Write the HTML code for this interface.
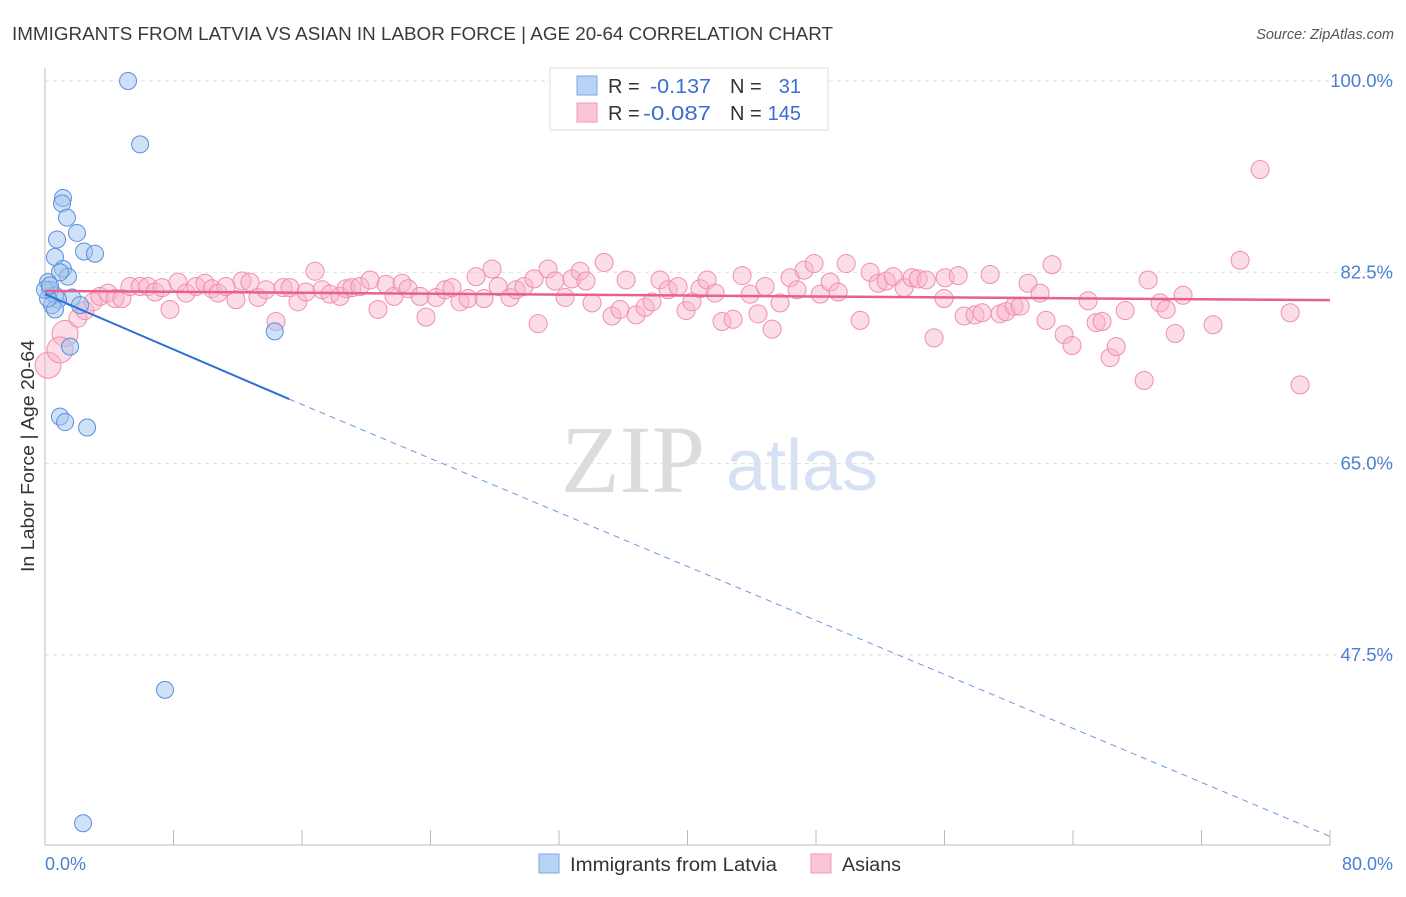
<!DOCTYPE html>
<html><head><meta charset="utf-8"><style>
body{margin:0;background:#fff;font-family:"Liberation Sans",sans-serif;}
</style></head><body>
<svg width="1406" height="892" xmlns="http://www.w3.org/2000/svg" style="font-family:'Liberation Sans',sans-serif">
<text x="12" y="40" font-size="18" fill="#3a3a3a" textLength="821" lengthAdjust="spacingAndGlyphs">IMMIGRANTS FROM LATVIA VS ASIAN IN LABOR FORCE | AGE 20-64 CORRELATION CHART</text>
<text x="1394" y="39" font-size="14.5" fill="#555" text-anchor="end" font-style="italic">Source: ZipAtlas.com</text>
<g>
<text x="633" y="492" font-size="96" fill="#dcdcdc" text-anchor="middle" font-family="Liberation Serif,serif">ZIP</text>
<text x="802" y="490" font-size="72" fill="#d6e2f3" text-anchor="middle">atlas</text>
</g>
<g id="grid"></g>
<g id="axes"></g>
<g id="marks"></g>
<g id="trends"></g>
<text x="34" y="456" font-size="18" fill="#333" text-anchor="middle" textLength="232" lengthAdjust="spacingAndGlyphs" transform="rotate(-90 34 456)">In Labor Force | Age 20-64</text>
<text x="45" y="870" font-size="18" fill="#4a7fd4">0.0%</text>
<text x="1393" y="870" font-size="18" fill="#4a7fd4" text-anchor="end">80.0%</text>
<g>
<rect x="550" y="68" width="278" height="62" fill="#fff" stroke="#ddd"/>
<rect x="577" y="76" width="20" height="19" fill="#b9d3f5" stroke="#7aa6e6"/>
<rect x="577" y="103" width="20" height="19" fill="#fac5d5" stroke="#f09ab5"/>
<text x="608" y="93" font-size="20" fill="#333">R = </text>
<text x="650" y="93" font-size="20" fill="#3a6fd0" textLength="61" lengthAdjust="spacingAndGlyphs">-0.137</text>
<text x="730" y="93" font-size="20" fill="#333">N = </text>
<text x="801" y="93" font-size="20" fill="#3a6fd0" text-anchor="end">31</text>
<text x="608" y="120" font-size="20" fill="#333">R = </text>
<text x="643" y="120" font-size="20" fill="#3a6fd0" textLength="68" lengthAdjust="spacingAndGlyphs">-0.087</text>
<text x="730" y="120" font-size="20" fill="#333">N = </text>
<text x="801" y="120" font-size="20" fill="#3a6fd0" text-anchor="end">145</text>
</g>
<g>
<rect x="539" y="854" width="20" height="19" fill="#b9d3f5" stroke="#7aa6e6"/>
<text x="570" y="871" font-size="19" fill="#333" textLength="207" lengthAdjust="spacingAndGlyphs">Immigrants from Latvia</text>
<rect x="811" y="854" width="20" height="19" fill="#fac5d5" stroke="#f09ab5"/>
<text x="842" y="871" font-size="19" fill="#333" textLength="59" lengthAdjust="spacingAndGlyphs">Asians</text>
</g>
</svg>
<script>
const yTicks=[100,82.5,65,47.5];
const yTickLabels=["100.0%","82.5%","65.0%","47.5%"];
const xTicks=[0,8,16,24,32,40,48,56,64,72,80];
const blueX=[5.17,5.92,1.12,1.06,1.37,1.99,0.75,2.43,3.11,0.62,1.12,1.43,0.93,0.19,0.31,0.62,1.68,0.81,0.44,0.62,2.18,0.19,14.3,1.56,0.93,1.25,2.62,7.47,2.37,0.0,0.31];
const blueY=[100.0,94.2,89.3,88.8,87.5,86.1,85.5,84.4,84.2,83.9,82.8,82.1,82.5,81.6,80.9,80.4,80.2,80.0,79.5,79.1,79.5,80.1,77.1,75.7,69.3,68.8,68.3,44.3,32.1,80.9,81.3];
const pinkX=[0.19,1.25,0.93,2.05,2.49,2.99,3.42,3.92,4.36,4.79,5.29,5.92,6.41,6.85,7.29,7.78,8.28,8.78,9.40,9.96,10.40,10.77,11.27,11.89,12.27,12.76,13.26,13.76,14.38,14.82,15.25,15.75,16.25,16.81,17.25,17.74,18.37,18.74,19.11,19.61,20.24,20.73,21.23,21.73,22.23,22.60,23.35,23.72,24.35,24.91,25.34,25.84,26.34,26.84,27.33,27.83,28.21,28.95,29.33,29.82,30.45,30.70,31.32,31.75,32.38,32.81,33.31,33.68,34.06,34.81,35.30,35.80,36.18,36.80,37.36,37.79,38.29,38.79,39.41,39.91,40.28,40.78,41.22,41.72,42.15,42.84,43.40,43.90,44.39,44.83,45.27,45.76,46.39,46.82,47.26,47.88,48.26,48.88,49.38,49.88,50.75,51.37,51.87,52.37,52.80,53.49,53.98,54.36,54.86,55.35,55.97,56.04,56.85,57.22,57.90,58.34,58.84,59.46,59.83,60.33,60.71,61.20,61.95,62.32,62.70,63.45,63.94,64.94,65.44,65.81,66.31,66.69,67.25,68.43,68.68,69.42,69.80,70.36,70.85,72.72,74.40,75.65,77.52,78.14];
const pinkY=[74.0,76.9,75.4,78.3,79.0,79.8,80.3,80.6,80.1,80.1,81.2,81.2,81.2,80.7,81.1,79.1,81.6,80.6,81.2,81.5,81.0,80.6,81.2,80.0,81.7,81.6,80.2,80.9,78.0,81.1,81.1,79.8,80.7,82.6,80.9,80.5,80.3,81.0,81.1,81.2,81.8,79.1,81.4,80.3,81.5,81.0,80.3,78.4,80.2,80.9,81.1,79.8,80.1,82.1,80.1,82.8,81.2,80.2,80.9,81.2,81.9,77.8,82.8,81.7,80.2,81.9,82.6,81.7,79.7,83.4,78.5,79.1,81.8,78.6,79.3,79.8,81.8,80.9,81.2,79.0,79.8,81.0,81.8,80.6,78.0,78.2,82.2,80.5,78.7,81.2,77.3,79.7,82.0,80.9,82.7,83.3,80.5,81.6,80.7,83.3,78.1,82.5,81.5,81.7,82.1,81.1,82.0,81.9,81.8,76.5,80.1,82.0,82.2,78.5,78.6,78.8,82.3,78.7,78.9,79.4,79.4,81.5,80.6,78.1,83.2,76.8,75.8,79.9,77.9,78.0,74.7,75.7,79.0,72.6,81.8,79.7,79.1,76.9,80.4,77.7,83.6,91.9,78.8,72.2];
const blueTrendX=[0,15.2,80];
const blueTrendY=[80.5,70.9,30.9];
const pinkTrendX=[0,80];
const pinkTrendY=[80.8,79.95];

const NS="http://www.w3.org/2000/svg";
const X0=45,X1=1330,Y0=81,PX=(X1-X0)/80,PY=191.3/17.5;
const sx=v=>X0+v*PX, sy=v=>Y0+(100-v)*PY;
function mk(t,a,p){const e=document.createElementNS(NS,t);for(const k in a)e.setAttribute(k,a[k]);p.appendChild(e);return e;}
const grid=document.getElementById('grid'),axes=document.getElementById('axes'),marks=document.getElementById('marks'),trends=document.getElementById('trends');
yTicks.forEach((v,i)=>{
  const l=mk('line',{x1:45,x2:1393,y1:sy(v),y2:sy(v),stroke:'#ddd','stroke-dasharray':'4 4'},grid);
  
  
  const t=mk('text',{x:1393,y:sy(v)+6,'font-size':18.5,fill:'#4a7fd4','text-anchor':'end'},axes);
  t.textContent=yTickLabels[i];
  
  
});
const ya=mk('line',{x1:X0,x2:X0,y1:68,y2:845,stroke:'#bbb'},axes);


const xa=mk('line',{x1:X0,x2:X1,y1:845,y2:845,stroke:'#bbb'},axes);


xTicks.forEach(v=>{
  const t=mk('line',{x1:sx(v),x2:sx(v),y1:830,y2:845,stroke:'#bbb'},axes);
  
  
});
pinkX.forEach((x,i)=>{
  const r=x<1.5&&pinkY[i]<78?13:9;
  const c=mk('circle',{cx:sx(x),cy:sy(pinkY[i]),r:r,fill:'rgba(248,180,202,0.45)',stroke:'#ee8fae','stroke-width':1},marks);
  
  
});
blueX.forEach((x,i)=>{
  const c=mk('circle',{cx:sx(x),cy:sy(blueY[i]),r:8.5,fill:'rgba(160,195,240,0.5)',stroke:'#5b8fdc','stroke-width':1},marks);
  
  
});
const b1=mk('line',{x1:sx(blueTrendX[0]),y1:sy(blueTrendY[0]),x2:sx(blueTrendX[1]),y2:sy(blueTrendY[1]),stroke:'#2c6fd6','stroke-width':2},trends);


const b2=mk('line',{x1:sx(blueTrendX[1]),y1:sy(blueTrendY[1]),x2:sx(blueTrendX[2]),y2:sy(blueTrendY[2]),stroke:'#6a98dd','stroke-width':1,'stroke-dasharray':'6 5'},trends);


const p1=mk('line',{x1:sx(pinkTrendX[0]),y1:sy(pinkTrendY[0]),x2:sx(pinkTrendX[1]),y2:sy(pinkTrendY[1]),stroke:'#e8608c','stroke-width':2.5},trends);


</script>
</body></html>
